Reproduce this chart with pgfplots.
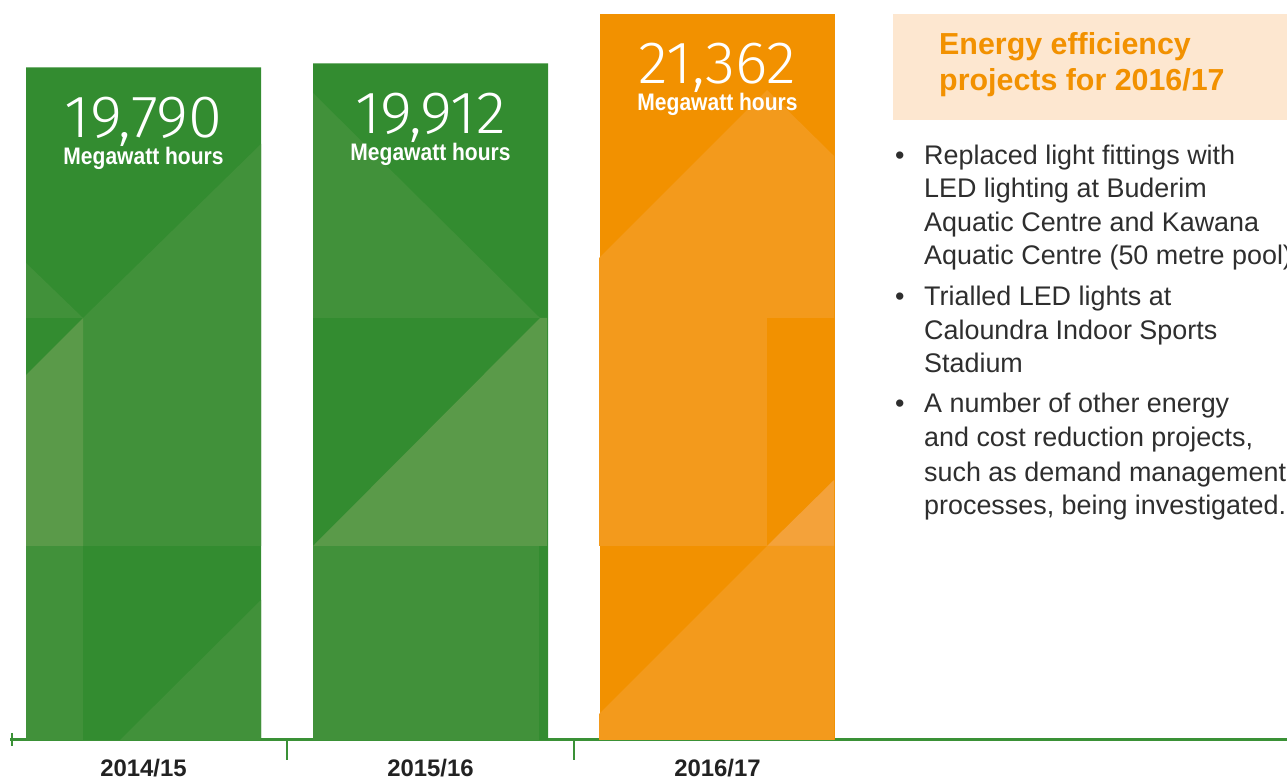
\documentclass[border=0pt]{standalone}
\usepackage{fontspec}
\setmainfont{Liberation Sans}
\newfontfamily\lightfont{Fira Sans Light}
\usepackage{pgfplots}
\pgfplotsset{compat=1.18}
\definecolor{gDark}{HTML}{338C30}
\definecolor{gMid}{HTML}{41913A}
\definecolor{gLight}{HTML}{5A9A49}
\definecolor{oDark}{HTML}{F29100}
\definecolor{oMid}{HTML}{F39A1C}
\definecolor{oLight}{HTML}{F4A23A}
\definecolor{axisGreen}{HTML}{3A9136}
\definecolor{titleOrange}{HTML}{F29100}
\definecolor{boxPeach}{HTML}{FDE7D0}
\definecolor{bodyGray}{HTML}{2E2E2E}
\definecolor{tickGray}{HTML}{222222}
% reference pixel -> axis coordinates (for the facet shading only)
\newcommand\px[2]{(axis cs:{(#1-143.5)/287},{(740-#2)*29.424})}

\begin{document}
\begin{tikzpicture}
\begin{axis}[at={(10bp,40bp)},anchor=south west,scale only axis,width=1277bp,height=740bp,
  xmin=-0.4652,xmax=3.9843,ymin=0,ymax=21774,
  hide y axis,axis x line*=bottom,axis line style={-,draw=axisGreen,line width=3bp},
  ybar,bar width=235bp,bar shift=0pt,
  xtick={0,1,2},xticklabels={2014/15,2015/16,2016/17},major tick length=0pt,
  xticklabel style={anchor=base,yshift=-37bp,font=\fontsize{24}{24}\selectfont\bfseries,text=tickGray},
  extra x ticks={0.5,1.5},extra x tick labels={},
  extra x tick style={tick align=outside,major tick length=20bp,tick style={draw=axisGreen,line width=2bp}},
  /pgf/number format/1000 sep={,},/pgf/number format/assume math mode=true]
\addplot[fill=gDark,draw=none] coordinates {(0,19790) (1,19912)};
\addplot[fill=oDark,draw=none] coordinates {(2,21362)};
% facets, bar 1
\fill[gMid] \px{83}{318} -- \px{261}{144} -- \px{261}{546} -- \px{83}{546} -- cycle;
\fill[gMid] \px{26}{263} -- \px{83}{318} -- \px{26}{318} -- cycle;
\fill[gLight] \px{26}{375} -- \px{83}{318} -- \px{83}{546} -- \px{26}{546} -- cycle;
\fill[gMid] \px{26}{546} -- \px{83}{546} -- \px{83}{740} -- \px{26}{740} -- cycle;
\fill[gMid] \px{120}{740} -- \px{261}{600} -- \px{261}{740} -- cycle;
% facets, bar 2
\fill[gMid] \px{313}{93} -- \px{540}{318} -- \px{313}{318} -- cycle;
\fill[gLight] \px{313}{546} -- \px{540}{318} -- \px{547}{318} -- \px{547}{546} -- cycle;
\fill[gMid] \px{313}{546} -- \px{539}{546} -- \px{539}{740} -- \px{313}{740} -- cycle;
% facets, bar 3
\fill[oMid] \px{599}{258} -- \px{767}{90} -- \px{767}{318} -- \px{599}{318} -- cycle;
\fill[oMid] \px{767}{90} -- \px{834}{156} -- \px{834}{318} -- \px{767}{318} -- cycle;
\fill[oMid] \px{599}{318} -- \px{767}{318} -- \px{767}{546} -- \px{599}{546} -- cycle;
\fill[oLight] \px{767}{546} -- \px{834}{480} -- \px{834}{546} -- cycle;
\fill[oMid] \px{599}{714} -- \px{767}{546} -- \px{834}{546} -- \px{834}{740} -- \px{599}{740} -- cycle;
% labels on the bars
\addplot[draw=none,fill=none,nodes near coords={\pgfmathprintnumber{\pgfplotspointmeta}},
  every node near coord/.append style={anchor=base,inner sep=0pt,yshift=-70bp,xscale=1.03,text=white,font=\lightfont\fontsize{60}{60}\selectfont}]
  coordinates {(0,19790) (1,19912) (2,21362)};
\addplot[draw=none,fill=none,nodes near coords={Megawatt hours},
  every node near coord/.append style={anchor=base,inner sep=0pt,yshift=-97bp,xscale=0.88,text=white,font=\fontsize{24}{24}\selectfont\bfseries}]
  coordinates {(0,19790) (1,19912) (2,21362)};
\end{axis}
\begin{scope}[x=1bp,y=1bp]
\draw[axisGreen,line width=2bp] (12,47) -- (12,34);
% text panel on the right
\fill[boxPeach] (893,766) rectangle (1300,660);
\begin{scope}[every node/.style={anchor=base west,inner sep=0pt}]
\node[text=titleOrange,font=\fontsize{30.5}{30.5}\selectfont\bfseries] at (939,725) {Energy efficiency};
\node[text=titleOrange,font=\fontsize{30.5}{30.5}\selectfont\bfseries] at (939,689) {projects for 2016/17};
\begin{scope}[every node/.append style={text=bodyGray,font=\fontsize{27}{27}\selectfont}]
\node at (924,615) {Replaced light fittings with};
\node at (924,582) {LED lighting at Buderim};
\node at (924,548) {Aquatic Centre and Kawana};
\node at (924,515) {Aquatic Centre (50 metre pool)};
\node at (924,474) {Trialled LED lights at};
\node at (924,440) {Caloundra Indoor Sports};
\node at (924,407) {Stadium};
\node at (924,367) {A number of other energy};
\node at (924,333) {and cost reduction projects,};
\node at (924,298) {such as demand management};
\node at (924,265) {processes, being investigated.};
\node at (895,615) {\textbullet};
\node at (895,474) {\textbullet};
\node at (895,367) {\textbullet};
\end{scope}
\end{scope}
\pgfresetboundingbox
\useasboundingbox (0,0) rectangle (1287,780);
\end{scope}
\end{tikzpicture}
\end{document}
